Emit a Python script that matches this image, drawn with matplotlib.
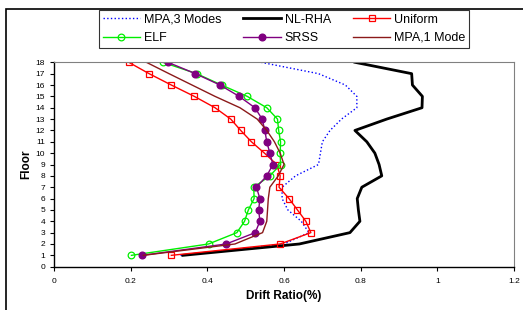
import matplotlib
matplotlib.use("Agg")
import matplotlib.pyplot as plt
from matplotlib.patches import Rectangle

plt.rcParams['font.family'] = ['Liberation Sans', 'DejaVu Sans']

floors = list(range(1, 19))
mpa3 = [0.33, 0.60, 0.665, 0.645, 0.61, 0.595, 0.595, 0.63, 0.69, 0.695, 0.70, 0.72, 0.75, 0.79, 0.79, 0.76, 0.69, 0.54]
nlrha = [0.336, 0.64, 0.772, 0.798, 0.794, 0.791, 0.803, 0.855, 0.848, 0.837, 0.816, 0.785, 0.868, 0.960, 0.961, 0.935, 0.933, 0.785]
uniform = [0.306, 0.590, 0.670, 0.657, 0.635, 0.613, 0.587, 0.590, 0.581, 0.549, 0.515, 0.487, 0.461, 0.420, 0.366, 0.306, 0.248, 0.195]
elf = [0.202, 0.403, 0.477, 0.497, 0.507, 0.522, 0.521, 0.563, 0.591, 0.590, 0.591, 0.586, 0.583, 0.555, 0.504, 0.437, 0.372, 0.284]
srss = [0.230, 0.449, 0.525, 0.537, 0.534, 0.537, 0.528, 0.555, 0.571, 0.563, 0.555, 0.550, 0.543, 0.524, 0.483, 0.433, 0.369, 0.297]
mpa1 = [0.233, 0.472, 0.544, 0.555, 0.557, 0.559, 0.563, 0.585, 0.600, 0.590, 0.575, 0.555, 0.530, 0.485, 0.420, 0.360, 0.300, 0.241]

xticks = [0, 0.2, 0.4, 0.6, 0.8, 1.0, 1.2]
xticklabels = ['0', '0.2', '0.4', '0.6', '0.8', '1', '1.2']

fig = plt.figure(figsize=(5.23, 3.10), dpi=100)
ax = fig.add_axes([0.1033, 0.1397, 0.8795, 0.6593])

h_mpa3, = ax.plot(mpa3, floors, color='blue', linestyle=':', linewidth=1.0, label='MPA,3 Modes')
h_nl, = ax.plot(nlrha, floors, color='black', linewidth=2.0, label='NL-RHA')
h_uni, = ax.plot(uniform, floors, color='red', linewidth=1.0, marker='s', markersize=4.5,
                 markerfacecolor='none', markeredgecolor='red', markeredgewidth=0.9, label='Uniform')
h_elf, = ax.plot(elf, floors, color='#00ee00', linewidth=1.0, marker='o', markersize=4.8,
                 markerfacecolor='none', markeredgecolor='#00ee00', markeredgewidth=0.9, label='ELF')
h_srss, = ax.plot(srss, floors, color='#800080', linewidth=1.0, marker='o', markersize=4.8,
                  markerfacecolor='#800080', markeredgecolor='#800080', label='SRSS')
h_mpa1, = ax.plot(mpa1, floors, color='#8B1A1A', linewidth=1.0, label='MPA,1 Mode')

ax.set_xlim(0, 1.2)
ax.set_ylim(0, 18)
ax.set_xticks(xticks)
ax.set_xticklabels(xticklabels)
ax.set_yticks(range(0, 19))
ax.tick_params(axis='both', labelsize=6, direction='out', length=3, width=0.8)
ax.tick_params(axis='x', pad=5)
for s in ['top', 'right']:
    ax.spines[s].set_color('#808080')
for s in ['left', 'bottom']:
    ax.spines[s].set_color('black')
    ax.spines[s].set_linewidth(1.0)

ax.set_xlabel('Drift Ratio(%)', fontsize=8.5, fontweight='bold', labelpad=4)
ax.set_ylabel('Floor', fontsize=8.5, fontweight='bold', labelpad=2)

handles = [h_mpa3, h_elf, h_nl, h_srss, h_uni, h_mpa1]
leg = fig.legend(handles=handles, labels=[h.get_label() for h in handles],
                 loc='upper left', bbox_to_anchor=(0.189, 0.845, 0.708, 0.123), mode='expand',
                 ncol=3, fontsize=9, frameon=True, fancybox=False, edgecolor='black',
                 borderpad=0.3, labelspacing=0.5, handlelength=3.0, handletextpad=0.3,
                 columnspacing=1.0, borderaxespad=0)
leg.get_frame().set_linewidth(0.8)

fig.patches.append(Rectangle((6/523, -0.1), 1.2, 1.1 - 9/310, transform=fig.transFigure,
                             fill=False, edgecolor='black', linewidth=1.2))

fig.savefig('out.png', dpi=100)
